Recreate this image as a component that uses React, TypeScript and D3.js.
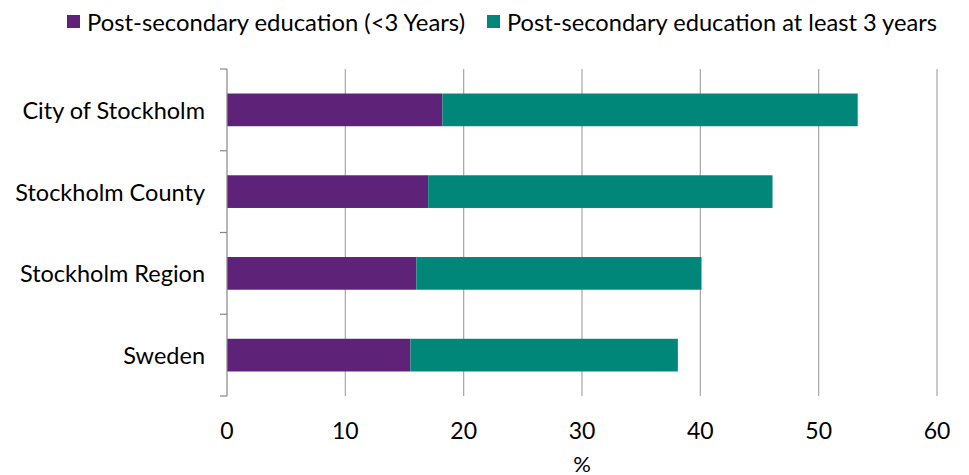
import React from "react";
import * as d3 from "d3";

const categories = ["City of Stockholm", "Stockholm County", "Stockholm Region", "Sweden"];
const shortEdu = [18.2, 17.0, 16.0, 15.5];
const longEdu = [35.1, 29.1, 24.1, 22.6];
const seriesNames = ["Post-secondary education (<3 Years)", "Post-secondary education at least 3 years"];
const seriesColors = ["#5E2379", "#00877A"];
const xTicks = [0, 10, 20, 30, 40, 50, 60];

const W = 969, H = 475;
const m = { left: 227, right: 32, top: 69, bottom: 79 };
const FONT = "Lato, 'Open Sans', sans-serif";

export default function App() {
  const x = d3.scaleLinear().domain([0, 60]).range([m.left, W - m.right]);
  const y = d3.scaleBand().domain(categories).range([m.top, H - m.bottom]).paddingInner(0).paddingOuter(0);
  const bh = y.bandwidth() * 0.4;
  const rows = categories.map((c, i) => ({ c, a: shortEdu[i], b: longEdu[i] }));
  const boundaries = [...categories.map((c) => y(c)!), H - m.bottom];
  return (
    <svg width={W} height={H} style={{ position: "absolute", left: 0, top: 0 }} fontFamily={FONT}>
      <rect width={W} height={H} fill="#fff" />
      {xTicks.filter((t) => t > 0).map((t) => (
        <line key={t} x1={x(t)} x2={x(t)} y1={m.top} y2={H - m.bottom} stroke="#a6a6a6" strokeWidth={1.2} />
      ))}
      {rows.map((r) => {
        const yc = y(r.c)! + y.bandwidth() / 2;
        return (
          <g key={r.c}>
            <rect x={x(0)} y={yc - bh / 2} width={x(r.a) - x(0)} height={bh} fill={seriesColors[0]} />
            <rect x={x(r.a)} y={yc - bh / 2} width={x(r.a + r.b) - x(r.a)} height={bh} fill={seriesColors[1]} />
            <text x={205} y={yc} textAnchor="end" dominantBaseline="central" fontSize={23.5} fill="#000">{r.c}</text>
          </g>
        );
      })}
      <line x1={m.left} x2={m.left} y1={m.top} y2={H - m.bottom} stroke="#888" strokeWidth={1.2} />
      {boundaries.map((b, i) => (
        <line key={i} x1={m.left - 7} x2={m.left} y1={b} y2={b} stroke="#888" strokeWidth={1.2} />
      ))}
      {xTicks.map((t) => (
        <text key={t} x={x(t)} y={430} textAnchor="middle" dominantBaseline="central" fontSize={23} fill="#000">{t}</text>
      ))}
      <text x={(m.left + W - m.right) / 2} y={463} textAnchor="middle" dominantBaseline="central" fontSize={22} fill="#000">%</text>
      <rect x={67} y={15} width={13} height={13} fill={seriesColors[0]} />
      <text x={87} y={22} dominantBaseline="central" fontSize={23} textLength={378} lengthAdjust="spacingAndGlyphs" fill="#000">{seriesNames[0]}</text>
      <rect x={487} y={15} width={13} height={13} fill={seriesColors[1]} />
      <text x={507} y={22} dominantBaseline="central" fontSize={23} textLength={430} lengthAdjust="spacingAndGlyphs" fill="#000">{seriesNames[1]}</text>
    </svg>
  );
}
